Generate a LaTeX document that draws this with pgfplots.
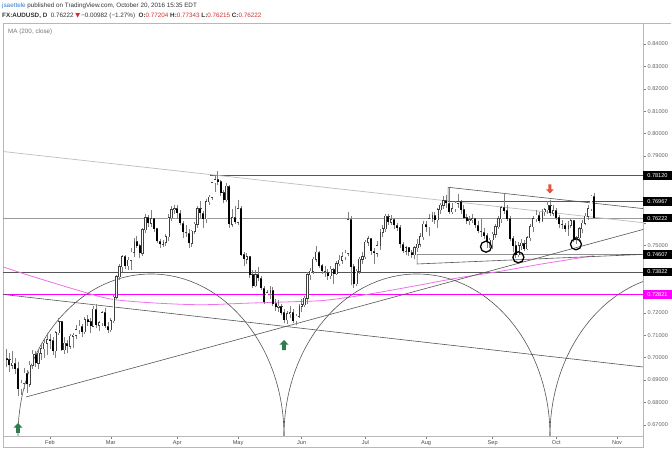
\documentclass[border=0pt]{standalone}
\usepackage{pgfplots}
\pgfplotsset{compat=1.18}
\usepackage{pgfplotstable}
\usepackage{fontspec}
\setmainfont{Liberation Sans}
\newfontfamily\dejavu{DejaVu Sans}

\definecolor{tvblue}{HTML}{2E7BD0}
\definecolor{tvred}{HTML}{D32F2F}
\definecolor{tvtext}{HTML}{333333}
\definecolor{tvgray}{HTML}{777777}
\definecolor{magline}{HTML}{FF00FF}
\definecolor{maline}{HTML}{F070F0}
\definecolor{arrgreen}{HTML}{2E7D4F}
\definecolor{arrred}{HTML}{E9533A}
\definecolor{framecol}{HTML}{B8B8B8}
\definecolor{drawcol}{HTML}{555555}
\definecolor{lightline}{HTML}{BDBDBD}
\definecolor{wickcol}{HTML}{808080}

\newcommand{\hdr}{\fontsize{6.3}{7.5}\selectfont}
\newcommand{\tck}{\fontsize{5.6}{6.5}\selectfont}

\pgfplotstableread{
i o h l c
-15 0.6995 0.7040 0.6960 0.6990
-14 0.6990 0.7020 0.6935 0.6965
-13 0.6965 0.7030 0.6950 0.6975
-12 0.6975 0.7000 0.6925 0.6950
-11 0.6950 0.6980 0.6827 0.6860
-10 0.6860 0.6900 0.6835 0.6885
-9 0.6885 0.6955 0.6860 0.6930
-8 0.6930 0.6945 0.6842 0.6880
-7 0.6880 0.6985 0.6870 0.6965
-6 0.6965 0.7035 0.6950 0.7015
-5 0.7015 0.7030 0.6960 0.6975
-4 0.6975 0.7035 0.6950 0.7020
-3 0.7020 0.7065 0.6990 0.7040
-2 0.7040 0.7085 0.7000 0.7065
-1 0.7065 0.7110 0.7010 0.7080
0 0.7080 0.7105 0.7040 0.7075
1 0.7075 0.7090 0.7010 0.7030
2 0.7030 0.7120 0.7000 0.7110
3 0.7110 0.7175 0.7100 0.7160
4 0.7160 0.7165 0.7030 0.7035
5 0.7035 0.7090 0.7015 0.7065
6 0.7065 0.7080 0.7020 0.7050
7 0.7050 0.7105 0.7040 0.7095
8 0.7095 0.7110 0.7045 0.7100
9 0.7100 0.7145 0.7085 0.7125
10 0.7125 0.7170 0.7105 0.7140
11 0.7140 0.7150 0.7090 0.7115
12 0.7115 0.7180 0.7105 0.7170
13 0.7170 0.7190 0.7140 0.7160
14 0.7160 0.7175 0.7110 0.7140
15 0.7140 0.7230 0.7135 0.7215
16 0.7215 0.7240 0.7130 0.7145
17 0.7145 0.7165 0.7120 0.7155
18 0.7155 0.7210 0.7140 0.7200
19 0.7200 0.7220 0.7130 0.7140
20 0.7140 0.7160 0.7110 0.7125
21 0.7125 0.7175 0.7115 0.7165
22 0.7165 0.7285 0.7155 0.7270
23 0.7270 0.7370 0.7260 0.7360
24 0.7360 0.7420 0.7345 0.7405
25 0.7405 0.7460 0.7380 0.7450
26 0.7450 0.7460 0.7395 0.7410
27 0.7410 0.7450 0.7390 0.7435
28 0.7435 0.7490 0.7390 0.7470
29 0.7470 0.7535 0.7450 0.7520
30 0.7520 0.7545 0.7490 0.7500
31 0.7500 0.7505 0.7445 0.7465
32 0.7465 0.7580 0.7455 0.7570
33 0.7570 0.7640 0.7555 0.7625
34 0.7625 0.7635 0.7585 0.7600
35 0.7600 0.7660 0.7585 0.7620
36 0.7620 0.7625 0.7560 0.7575
37 0.7575 0.7580 0.7510 0.7520
38 0.7520 0.7530 0.7490 0.7505
39 0.7505 0.7525 0.7495 0.7515
40 0.7515 0.7550 0.7500 0.7540
41 0.7540 0.7640 0.7520 0.7625
42 0.7625 0.7675 0.7610 0.7660
43 0.7660 0.7680 0.7640 0.7665
44 0.7665 0.7680 0.7620 0.7645
45 0.7645 0.7660 0.7590 0.7600
46 0.7600 0.7610 0.7535 0.7560
47 0.7560 0.7590 0.7540 0.7555
48 0.7555 0.7575 0.7490 0.7510
49 0.7510 0.7570 0.7495 0.7565
50 0.7565 0.7605 0.7550 0.7595
51 0.7595 0.7675 0.7580 0.7665
52 0.7665 0.7700 0.7625 0.7645
53 0.7645 0.7655 0.7580 0.7620
54 0.7620 0.7710 0.7600 0.7695
55 0.7695 0.7725 0.7680 0.7715
56 0.7715 0.7785 0.7705 0.7780
57 0.7780 0.7815 0.7740 0.7795
58 0.7795 0.7835 0.7770 0.7785
59 0.7785 0.7795 0.7720 0.7735
60 0.7735 0.7750 0.7690 0.7705
61 0.7705 0.7780 0.7695 0.7765
62 0.7765 0.7770 0.7580 0.7595
63 0.7595 0.7665 0.7585 0.7625
64 0.7625 0.7675 0.7595 0.7605
65 0.7605 0.7705 0.7590 0.7665
66 0.7665 0.7675 0.7455 0.7460
67 0.7460 0.7470 0.7410 0.7440
68 0.7440 0.7465 0.7420 0.7450
69 0.7450 0.7455 0.7355 0.7370
70 0.7370 0.7390 0.7310 0.7320
71 0.7320 0.7390 0.7315 0.7370
72 0.7370 0.7405 0.7340 0.7355
73 0.7355 0.7365 0.7300 0.7310
74 0.7310 0.7320 0.7240 0.7250
75 0.7250 0.7300 0.7245 0.7290
76 0.7290 0.7320 0.7260 0.7300
77 0.7300 0.7315 0.7230 0.7240
78 0.7240 0.7260 0.7210 0.7225
79 0.7225 0.7255 0.7205 0.7230
80 0.7230 0.7240 0.7190 0.7200
81 0.7200 0.7215 0.7155 0.7170
82 0.7170 0.7210 0.7150 0.7195
83 0.7195 0.7230 0.7175 0.7200
84 0.7200 0.7215 0.7155 0.7165
85 0.7165 0.7195 0.7145 0.7185
86 0.7185 0.7240 0.7175 0.7230
87 0.7230 0.7260 0.7205 0.7235
88 0.7235 0.7275 0.7225 0.7265
89 0.7265 0.7380 0.7240 0.7370
90 0.7370 0.7400 0.7345 0.7385
91 0.7385 0.7450 0.7375 0.7440
92 0.7440 0.7500 0.7425 0.7470
93 0.7470 0.7475 0.7400 0.7410
94 0.7410 0.7420 0.7375 0.7385
95 0.7385 0.7410 0.7360 0.7380
96 0.7380 0.7395 0.7345 0.7365
97 0.7365 0.7410 0.7350 0.7395
98 0.7395 0.7400 0.7330 0.7375
99 0.7375 0.7430 0.7370 0.7420
100 0.7420 0.7460 0.7410 0.7435
101 0.7435 0.7470 0.7420 0.7450
102 0.7450 0.7480 0.7435 0.7465
103 0.7465 0.7648 0.7455 0.7615
104 0.7615 0.7630 0.7325 0.7405
105 0.7405 0.7420 0.7310 0.7330
106 0.7330 0.7395 0.7320 0.7385
107 0.7385 0.7450 0.7375 0.7440
108 0.7440 0.7470 0.7420 0.7450
109 0.7450 0.7525 0.7440 0.7515
110 0.7515 0.7545 0.7500 0.7530
111 0.7530 0.7535 0.7460 0.7475
112 0.7475 0.7490 0.7420 0.7465
113 0.7465 0.7520 0.7450 0.7500
114 0.7500 0.7575 0.7480 0.7560
115 0.7560 0.7590 0.7540 0.7575
116 0.7575 0.7640 0.7560 0.7630
117 0.7630 0.7640 0.7590 0.7605
118 0.7605 0.7635 0.7590 0.7615
119 0.7615 0.7625 0.7575 0.7590
120 0.7590 0.7600 0.7565 0.7580
121 0.7580 0.7590 0.7490 0.7505
122 0.7505 0.7515 0.7465 0.7475
123 0.7475 0.7500 0.7460 0.7490
124 0.7490 0.7495 0.7455 0.7470
125 0.7470 0.7480 0.7445 0.7460
126 0.7460 0.7500 0.7440 0.7490
127 0.7490 0.7530 0.7470 0.7505
128 0.7505 0.7555 0.7495 0.7540
129 0.7540 0.7610 0.7525 0.7595
130 0.7595 0.7610 0.7560 0.7585
131 0.7585 0.7640 0.7545 0.7620
132 0.7620 0.7650 0.7605 0.7635
133 0.7635 0.7650 0.7595 0.7615
134 0.7615 0.7670 0.7580 0.7660
135 0.7660 0.7690 0.7640 0.7680
136 0.7680 0.7720 0.7665 0.7700
137 0.7700 0.7725 0.7670 0.7690
138 0.7690 0.7758 0.7640 0.7650
139 0.7650 0.7690 0.7640 0.7665
140 0.7665 0.7700 0.7650 0.7690
141 0.7690 0.7730 0.7670 0.7695
142 0.7695 0.7705 0.7640 0.7660
143 0.7660 0.7680 0.7620 0.7625
144 0.7625 0.7640 0.7595 0.7610
145 0.7610 0.7630 0.7590 0.7615
146 0.7615 0.7640 0.7600 0.7620
147 0.7620 0.7625 0.7580 0.7590
148 0.7590 0.7610 0.7555 0.7565
149 0.7565 0.7620 0.7540 0.7560
150 0.7560 0.7580 0.7530 0.7545
151 0.7545 0.7555 0.7490 0.7515
152 0.7515 0.7535 0.7490 0.7525
153 0.7525 0.7560 0.7485 0.7550
154 0.7550 0.7595 0.7535 0.7585
155 0.7585 0.7630 0.7575 0.7620
156 0.7620 0.7675 0.7600 0.7670
157 0.7670 0.7733 0.7640 0.7655
158 0.7655 0.7680 0.7610 0.7620
159 0.7620 0.7630 0.7520 0.7530
160 0.7530 0.7545 0.7470 0.7500
161 0.7500 0.7520 0.7445 0.7460
162 0.7460 0.7515 0.7450 0.7500
163 0.7500 0.7530 0.7480 0.7510
164 0.7510 0.7525 0.7475 0.7485
165 0.7485 0.7545 0.7480 0.7535
166 0.7535 0.7595 0.7520 0.7585
167 0.7585 0.7630 0.7560 0.7620
168 0.7620 0.7660 0.7605 0.7635
169 0.7635 0.7650 0.7600 0.7610
170 0.7610 0.7665 0.7605 0.7650
171 0.7650 0.7670 0.7630 0.7660
172 0.7660 0.7700 0.7640 0.7680
173 0.7680 0.7705 0.7630 0.7645
174 0.7645 0.7680 0.7630 0.7655
175 0.7655 0.7670 0.7615 0.7625
176 0.7625 0.7635 0.7580 0.7595
177 0.7595 0.7615 0.7575 0.7590
178 0.7590 0.7600 0.7560 0.7575
179 0.7575 0.7610 0.7545 0.7590
180 0.7590 0.7620 0.7580 0.7610
181 0.7610 0.7615 0.7515 0.7525
182 0.7525 0.7545 0.7505 0.7535
183 0.7535 0.7585 0.7515 0.7575
184 0.7575 0.7615 0.7555 0.7600
185 0.7600 0.7645 0.7590 0.7630
186 0.7630 0.7680 0.7615 0.7665
187 0.7665 0.7725 0.7655 0.7720
188 0.77204 0.77343 0.76215 0.76222
}\candles

\pgfplotstableread{
i v
-16.25 0.7405
-8 0.7370
0 0.7338
9.3 0.7302
20.7 0.7262
34.6 0.7245
51.9 0.7236
68.1 0.7243
85.4 0.7250
94.4 0.7255
103.7 0.7270
114.1 0.7292
127 0.7322
140.7 0.7355
155.5 0.7385
170 0.7418
188 0.7455
}\madata

\pgfdeclareplotmark{tvup}{%
  \pgfpathmoveto{\pgfqpoint{0pt}{5pt}}%
  \pgfpathlineto{\pgfqpoint{4.6pt}{0.3pt}}%
  \pgfpathlineto{\pgfqpoint{1.8pt}{0.3pt}}%
  \pgfpathlineto{\pgfqpoint{1.8pt}{-5pt}}%
  \pgfpathlineto{\pgfqpoint{-1.8pt}{-5pt}}%
  \pgfpathlineto{\pgfqpoint{-1.8pt}{0.3pt}}%
  \pgfpathlineto{\pgfqpoint{-4.6pt}{0.3pt}}%
  \pgfpathclose
  \pgfusepathqfill
}
\pgfdeclareplotmark{tvdown}{%
  \pgfpathmoveto{\pgfqpoint{0pt}{-4.5pt}}%
  \pgfpathlineto{\pgfqpoint{3.9pt}{-0.3pt}}%
  \pgfpathlineto{\pgfqpoint{1.5pt}{-0.3pt}}%
  \pgfpathlineto{\pgfqpoint{1.5pt}{4.5pt}}%
  \pgfpathlineto{\pgfqpoint{-1.5pt}{4.5pt}}%
  \pgfpathlineto{\pgfqpoint{-1.5pt}{-0.3pt}}%
  \pgfpathlineto{\pgfqpoint{-3.9pt}{-0.3pt}}%
  \pgfpathclose
  \pgfusepathqfill
}

\tikzset{pbox/.style={anchor=west, fill=black, text=white, font=\tck, inner sep=0pt, minimum width=28.5pt, minimum height=8.5pt}}

\begin{document}
\begin{tikzpicture}
\path[use as bounding box] (0pt,0pt) rectangle (672pt,449pt);
\fill[white] (0pt,0pt) rectangle (672pt,449pt);
\node[anchor=west, inner sep=0pt, font=\hdr, text=tvtext] at (2pt,443pt)
  {\textcolor{tvblue}{jsaettele} published on TradingView.com, October 20, 2016 15:35 EDT};
\node[anchor=west, inner sep=0pt, font=\hdr, text=tvtext] at (2pt,433.5pt)
  {\textbf{FX:AUDUSD, D}\ \ 0.76222 {\dejavu\textcolor{tvred}{▼}}\,−0.00982 (−1.27\%)\ \ \textbf{O:}\textcolor{tvred}{0.77204} \textbf{H:}\textcolor{tvred}{0.77343} \textbf{L:}\textcolor{tvred}{0.76215} \textbf{C:}\textcolor{tvred}{0.76222}};

\begin{axis}[
  at={(3pt,13pt)}, anchor=south west,
  width=640pt, height=413pt, scale only axis,
  xmin=-16.246, xmax=204.977, ymin=0.665, ymax=0.849375,
  axis line style={framecol, line width=0.6pt},
  tick align=outside, major tick length=3pt,
  tick style={black!50, line width=0.4pt},
  xtick pos=left, ytick pos=right, yticklabel pos=right,
  xtick={0,21,44,65,87,109,130,153,175,196},
  xticklabels={Feb,Mar,Apr,May,Jun,Jul,Aug,Sep,Oct,Nov},
  xticklabel style={font=\tck, text=black!70, inner sep=1.2pt},
  ytick={0.67,0.68,0.69,0.70,0.71,0.72,0.73,0.74,0.75,0.76,0.77,0.78,0.79,0.80,0.81,0.82,0.83,0.84},
  yticklabels={0.67000,0.68000,0.69000,0.70000,0.71000,0.72000,{},{},0.75000,{},{},{},0.79000,0.80000,0.81000,0.82000,0.83000,0.84000},
  yticklabel style={font=\tck, text=black!60, inner sep=1.5pt},
]
% level lines
\addplot[black!40, line width=0.6pt] coordinates {(-16.246,0.76222) (204.977,0.76222)};
\addplot[drawcol, line width=0.6pt] coordinates {(-16.246,0.73822) (204.977,0.73822)};
\addplot[drawcol, line width=0.6pt] coordinates {(55.3,0.78120) (204.977,0.78120)};
\addplot[magline, line width=1.2pt] coordinates {(-16.246,0.72821) (204.977,0.72821)};
% 200 MA
\addplot[maline, line width=0.8pt, smooth] table[x=i, y=v] {\madata};
% trend lines
\addplot[lightline, line width=0.7pt] coordinates {(-16.246,0.79201) (204.977,0.76022)};
\addplot[drawcol, line width=0.6pt] coordinates {(-16.246,0.72821) (204.977,0.69580)};
\addplot[drawcol, line width=0.6pt] coordinates {(-8.3,0.68241) (204.977,0.75719)};
\addplot[drawcol, line width=0.6pt] coordinates {(204.977,0.76652) (137.6,0.77603) (137.6,0.76967) (204.977,0.76967)};
\addplot[drawcol, line width=0.6pt] coordinates {(204.977,0.74607) (126.9,0.74607) (126.9,0.74179) (204.977,0.74607)};
% cycle arcs
\draw[drawcol, line width=0.6pt] (axis cs:-11.06,0.665) arc[start angle=180, end angle=0, x radius=133pt, y radius=162pt];
\draw[drawcol, line width=0.6pt] (axis cs:80.88,0.665) arc[start angle=180, end angle=0, x radius=133pt, y radius=162pt];
\draw[drawcol, line width=0.6pt] (axis cs:172.83,0.665) arc[start angle=180, end angle=107.5, x radius=133pt, y radius=162pt];
% candles: wicks
\addplot[draw=none, mark=none, error bars/.cd, y dir=plus, y explicit, error mark=none,
  error bar style={draw=wickcol, line width=0.6pt}]
  table[x=i, y=l, y error expr=\thisrow{h}-\thisrow{l}] {\candles};
% down bodies
\addplot[draw=none, mark=none, error bars/.cd, y dir=plus, y explicit, error mark=none,
  error bar style={draw=black, line width=2pt}]
  table[x=i, y=c, y error expr={max(\thisrow{o}-\thisrow{c},0)}] {\candles};
% up bodies outline
\addplot[draw=none, mark=none, error bars/.cd, y dir=plus, y explicit, error mark=none,
  error bar style={draw=black!75, line width=2.2pt}]
  table[x=i, y expr=\thisrow{o}-0.00022, y error expr={max(\thisrow{c}-\thisrow{o},0)+0.00044}] {\candles};
% up bodies fill
\addplot[draw=none, mark=none, error bars/.cd, y dir=plus, y explicit, error mark=none,
  error bar style={draw=white, line width=1.2pt}]
  table[x=i, y=o, y error expr={max(\thisrow{c}-\thisrow{o},0)}] {\candles};
% circles
\addplot[only marks, mark=o, mark size=5.5pt, mark options={line width=1.3pt, draw=black}]
  coordinates {(150.7,0.74951) (161.9,0.74478) (181.8,0.75058)};
% arrows
\addplot[only marks, color=arrgreen, mark=tvup] coordinates {(-11.06,0.66857) (80.9,0.70562)};
\addplot[only marks, color=arrred, mark=tvdown] coordinates {(172.8,0.77527)};
% label anchors
\coordinate (b1) at (axis cs:204.977,0.78120);
\coordinate (b2) at (axis cs:204.977,0.76967);
\coordinate (b3) at (axis cs:204.977,0.76222);
\coordinate (b4) at (axis cs:204.977,0.74607);
\coordinate (b5) at (axis cs:204.977,0.73822);
\coordinate (b6) at (axis cs:204.977,0.72821);
\end{axis}

\node[pbox] at (b1) {0.78120};
\node[pbox] at (b2) {0.76967};
\node[pbox] at (b3) {0.76222};
\node[pbox] at (b4) {0.74607};
\node[pbox] at (b5) {0.73822};
\node[pbox, fill=magline] at (b6) {0.72821};

\draw[framecol, line width=0.6pt] (3pt,2pt) rectangle (643pt,13pt);
\draw[framecol, line width=0.6pt] (643pt,426pt) -- (671pt,426pt);
\node[anchor=west, inner sep=0pt, font=\hdr, text=tvgray] at (8pt,417pt) {MA (200, close)};
\end{tikzpicture}
\end{document}
